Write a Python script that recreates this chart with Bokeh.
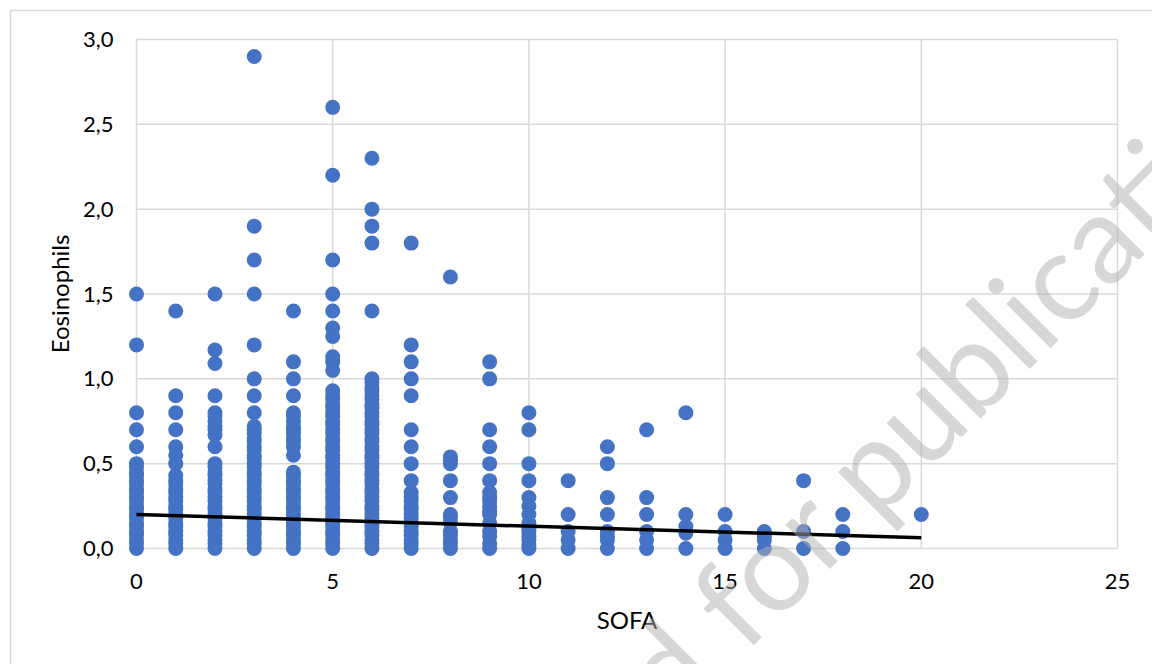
from bokeh.plotting import figure
from bokeh.embed import file_html
from bokeh.resources import INLINE
from bokeh.core.properties import value

# ---- data ----
sofa_values = [0, 1, 2, 3, 4, 5, 6, 7, 8, 9, 10, 11, 12, 13, 14, 15, 16, 17, 18, 20]

eos_0 = [1.5, 1.2, 0.8, 0.7, 0.6, 0.5, 0.48, 0.45, 0.43, 0.4, 0.38, 0.35, 0.33, 0.3, 0.28, 0.25,
         0.23, 0.2, 0.18, 0.15, 0.13, 0.1, 0.08, 0.05, 0.03, 0.0]
eos_1 = [1.4, 0.9, 0.8, 0.7, 0.6, 0.55, 0.5, 0.43, 0.4, 0.38, 0.35, 0.33, 0.3, 0.28, 0.25, 0.23,
         0.2, 0.18, 0.15, 0.13, 0.1, 0.08, 0.05, 0.03, 0.0]
eos_2 = [1.5, 1.17, 1.09, 0.9, 0.8, 0.78, 0.75, 0.72, 0.7, 0.67, 0.6, 0.5, 0.48, 0.45, 0.43, 0.4,
         0.38, 0.35, 0.33, 0.3, 0.28, 0.25, 0.23, 0.2, 0.18, 0.15, 0.13, 0.1, 0.08, 0.05, 0.03, 0.0]
eos_3 = [2.9, 1.9, 1.7, 1.5, 1.2, 1.0, 0.9, 0.8, 0.72, 0.7, 0.68, 0.65, 0.63, 0.6, 0.58, 0.55,
         0.53, 0.5, 0.48, 0.45, 0.43, 0.4, 0.38, 0.35, 0.33, 0.3, 0.28, 0.25, 0.23, 0.2, 0.18,
         0.15, 0.13, 0.1, 0.08, 0.05, 0.03, 0.0]
eos_4 = [1.4, 1.1, 1.0, 0.9, 0.8, 0.78, 0.75, 0.72, 0.7, 0.68, 0.65, 0.63, 0.6, 0.55, 0.45, 0.43,
         0.4, 0.38, 0.35, 0.33, 0.3, 0.28, 0.25, 0.23, 0.2, 0.18, 0.15, 0.13, 0.1, 0.08, 0.05,
         0.03, 0.0]
eos_5 = [2.6, 2.2, 1.7, 1.5, 1.4, 1.3, 1.25, 1.13, 1.1, 1.05, 0.93, 0.9, 0.88, 0.85, 0.83, 0.8,
         0.78, 0.75, 0.73, 0.7, 0.68, 0.65, 0.63, 0.6, 0.58, 0.55, 0.53, 0.5, 0.48, 0.45, 0.43,
         0.4, 0.38, 0.35, 0.33, 0.3, 0.28, 0.25, 0.23, 0.2, 0.18, 0.15, 0.13, 0.1, 0.08, 0.05,
         0.03, 0.0]
eos_6 = [2.3, 2.0, 1.9, 1.8, 1.4, 1.0, 0.98, 0.95, 0.93, 0.9, 0.88, 0.85, 0.83, 0.8, 0.78, 0.75,
         0.73, 0.7, 0.68, 0.65, 0.63, 0.6, 0.58, 0.55, 0.53, 0.5, 0.48, 0.45, 0.43, 0.4, 0.38,
         0.35, 0.33, 0.3, 0.28, 0.25, 0.23, 0.2, 0.18, 0.15, 0.13, 0.1, 0.08, 0.05, 0.03, 0.0]
eos_7 = [1.8, 1.2, 1.1, 1.0, 0.9, 0.7, 0.6, 0.5, 0.4, 0.33, 0.3, 0.28, 0.25, 0.23, 0.2, 0.18,
         0.15, 0.13, 0.1, 0.08, 0.05, 0.03, 0.0]
eos_8 = [1.6, 0.54, 0.52, 0.5, 0.4, 0.3, 0.2, 0.18, 0.15, 0.1, 0.08, 0.05, 0.03, 0.0]
eos_9 = [1.1, 1.0, 0.7, 0.6, 0.5, 0.4, 0.33, 0.3, 0.28, 0.25, 0.22, 0.2, 0.15, 0.1, 0.07, 0.03, 0.0]
eos_10 = [0.8, 0.7, 0.5, 0.4, 0.3, 0.25, 0.2, 0.15, 0.12, 0.1, 0.07, 0.05, 0.02, 0.0]
eos_11 = [0.4, 0.2, 0.1, 0.05, 0.0]
eos_12 = [0.6, 0.5, 0.3, 0.2, 0.1, 0.07, 0.05, 0.0]
eos_13 = [0.7, 0.3, 0.2, 0.1, 0.05, 0.0]
eos_14 = [0.8, 0.2, 0.13, 0.09, 0.0]
eos_15 = [0.2, 0.1, 0.05, 0.0]
eos_16 = [0.1, 0.07, 0.05, 0.0]
eos_17 = [0.4, 0.1, 0.0]
eos_18 = [0.2, 0.1, 0.0]
eos_20 = [0.2]

eos_columns = [eos_0, eos_1, eos_2, eos_3, eos_4, eos_5, eos_6, eos_7, eos_8, eos_9, eos_10,
               eos_11, eos_12, eos_13, eos_14, eos_15, eos_16, eos_17, eos_18, eos_20]

trend_x = [0, 20]
trend_y = [0.200, 0.063]

x_ticks = [0, 5, 10, 15, 20, 25]
x_tick_labels = ["0", "5", "10", "15", "20", "25"]
y_ticks = [0.0, 0.5, 1.0, 1.5, 2.0, 2.5, 3.0]
y_tick_labels = ["0,0", "0,5", "1,0", "1,5", "2,0", "2,5", "3,0"]

x_title = "SOFA"
y_title = "Eosinophils"
watermark_text = "Accepted for publication"

# ---- layout (pixels on the 1152x664 canvas) ----
W, H = 1152, 664
PX0, PY0 = 136.0, 548.0          # pixel position of data (0, 0)
SX = (1117.0 - 136.0) / 25.0     # pixels per SOFA unit
SY = (548.0 - 39.0) / 3.0        # pixels per eosinophil unit


def dx(px):
    return (px - PX0) / SX


def dy(py):
    return (PY0 - py) / SY


# ---- build point table ----
xs, ys = [], []
for s, col in zip(sofa_values, eos_columns):
    for v in col:
        xs.append(s)
        ys.append(v)

FONT = "Lato"
GRID = "#d9d9d9"

p = figure(width=W, height=H, output_backend="svg", toolbar_location=None,
           x_range=(dx(0), dx(W)), y_range=(dy(H), dy(0)),
           x_axis_location=None, y_axis_location=None, min_border=0)
p.outline_line_color = None
p.grid.visible = False
p.background_fill_color = "white"
p.border_fill_color = "white"

# outer chart-area border (top and left edges visible)
p.line([dx(10), dx(10), dx(W)], [dy(H), dy(10), dy(10)], line_color=GRID, line_width=1.5)

# gridlines within the plot area
p.multi_line(xs=[[t, t] for t in x_ticks], ys=[[y_ticks[0], y_ticks[-1]] for _ in x_ticks],
             line_color=GRID, line_width=1.5)
p.multi_line(xs=[[x_ticks[0], x_ticks[-1]] for _ in y_ticks], ys=[[t, t] for t in y_ticks],
             line_color=GRID, line_width=1.5)

# data
p.scatter(xs, ys, size=15, marker="circle", fill_color="#4472C4", line_color=None)
p.line(trend_x, trend_y, line_color="black", line_width=3.5)

# tick labels
p.text(x=x_ticks, y=[dy(581)] * len(x_ticks), text=x_tick_labels,
       text_font=value(FONT), text_font_size="22px", text_color="black",
       text_align="center", text_baseline="middle")
p.text(x=[dx(113)] * len(y_ticks), y=y_ticks, text=y_tick_labels,
       text_font=value(FONT), text_font_size="22px", text_color="black",
       text_align="right", text_baseline="middle")

# axis titles
p.text(x=[(x_ticks[0] + x_ticks[-1]) / 2], y=[dy(619)], text=[x_title],
       text_font=value(FONT), text_font_size="24px", text_color="black",
       text_align="center", text_baseline="middle")
p.text(x=[dx(59)], y=[(y_ticks[0] + y_ticks[-1]) / 2], text=[y_title], angle=90,
       angle_units="deg", text_font=value(FONT), text_font_size="24px", text_color="black",
       text_align="center", text_baseline="middle")

# watermark
p.text(x=[dx(798)], y=[dy(532)], text=[watermark_text], angle=45, angle_units="deg",
       text_font=value(FONT), text_font_size="124px", text_color="#b0b0b0", text_alpha=0.5,
       text_align="center", text_baseline="middle")

open("out.html", "w").write(file_html(p, INLINE))
